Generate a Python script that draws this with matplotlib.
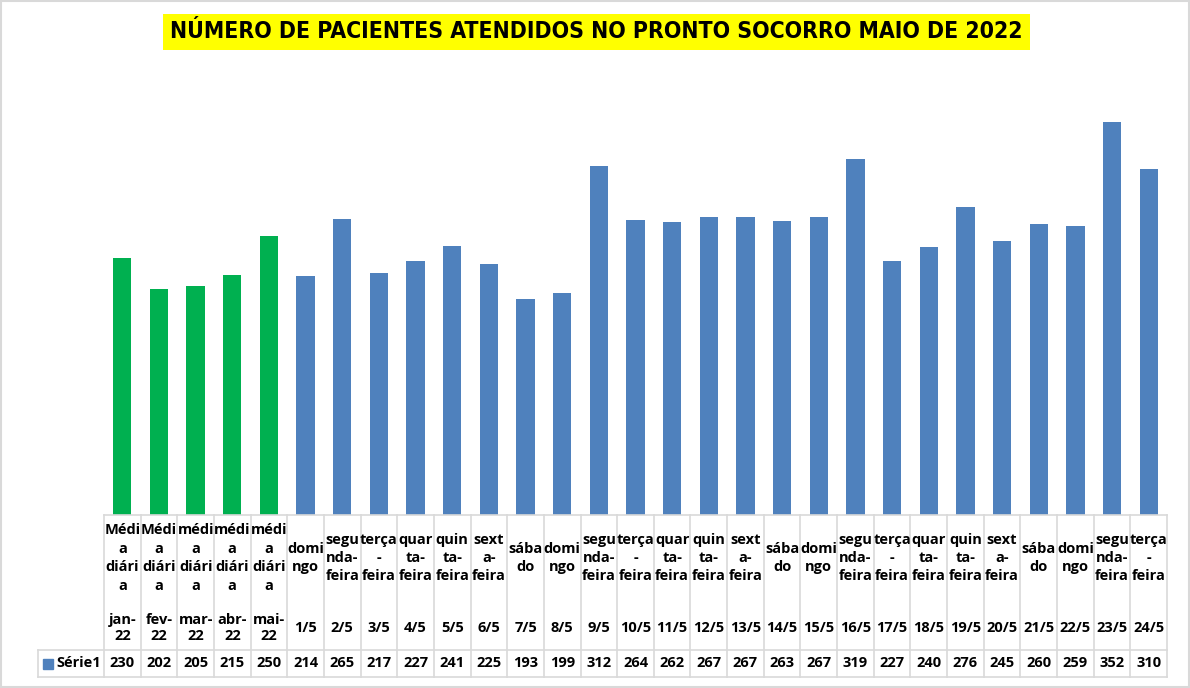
import matplotlib
matplotlib.use("Agg")
import matplotlib.pyplot as plt
from matplotlib import font_manager as fm
from matplotlib.transforms import blended_transform_factory
from matplotlib.patches import Rectangle

# ---------------- data ----------------
title = "NÚMERO DE PACIENTES ATENDIDOS NO PRONTO SOCORRO MAIO DE 2022"
series_name = "Série1"
day_labels = [
    "Médi\na\ndiári\na", "Médi\na\ndiári\na", "médi\na\ndiári\na", "médi\na\ndiári\na", "médi\na\ndiári\na",
    "domi\nngo", "segu\nnda-\nfeira", "terça\n-\nfeira", "quar\nta-\nfeira", "quin\nta-\nfeira",
    "sext\na-\nfeira", "sába\ndo", "domi\nngo", "segu\nnda-\nfeira", "terça\n-\nfeira",
    "quar\nta-\nfeira", "quin\nta-\nfeira", "sext\na-\nfeira", "sába\ndo", "domi\nngo",
    "segu\nnda-\nfeira", "terça\n-\nfeira", "quar\nta-\nfeira", "quin\nta-\nfeira", "sext\na-\nfeira",
    "sába\ndo", "domi\nngo", "segu\nnda-\nfeira", "terça\n-\nfeira",
]
date_labels = [
    "jan-\n22", "fev-\n22", "mar-\n22", "abr-\n22", "mai-\n22",
    "1/5", "2/5", "3/5", "4/5", "5/5", "6/5", "7/5", "8/5", "9/5", "10/5",
    "11/5", "12/5", "13/5", "14/5", "15/5", "16/5", "17/5", "18/5", "19/5",
    "20/5", "21/5", "22/5", "23/5", "24/5",
]
values = [230, 202, 205, 215, 250, 214, 265, 217, 227, 241, 225, 193, 199, 312,
          264, 262, 267, 267, 263, 267, 319, 227, 240, 276, 245, 260, 259, 352, 310]
n_monthly = 5  # first five columns are monthly averages

GREEN = "#00B050"
BLUE = "#4F81BD"
GRID = "#D9D9D9"

W, H = 1190, 688
fig = plt.figure(figsize=(W / 100, H / 100), dpi=100)
fig.patch.set_facecolor("white")

def fx(px):
    return px / W

def fy(py):
    return 1 - py / H

left_px, right_px = 104, 1167
top_px, base_px = 68, 515
ax = fig.add_axes([fx(left_px), fy(base_px), fx(right_px) - fx(left_px), fy(top_px) - fy(base_px)])
n = len(values)
x = list(range(n))
colors = [GREEN if i < n_monthly else BLUE for i in x]
ax.bar(x, values, width=0.5, color=colors, zorder=2)
ax.set_xlim(-0.5, n - 0.5)
ax.set_ylim(0, 400)
ax.set_axis_off()

# ---------------- data table ----------------
tr = blended_transform_factory(ax.transData, fig.transFigure)
tbl_font = dict(family=["Open Sans", "DejaVu Sans"], fontweight="bold", fontsize=10.5, color="black")

row1_top, row1_bot, row2_bot = 515, 650, 677
legend_left_px = 38
for b in [i - 0.5 for i in range(n + 1)]:
    ax.plot([b, b], [fy(row1_top), fy(row2_bot)], transform=tr, color=GRID, lw=1.2, clip_on=False, zorder=1)
ax.plot([-0.5, n - 0.5], [fy(row1_top)] * 2, transform=tr, color=GRID, lw=1.2, clip_on=False)
for yy in (row1_bot, row2_bot):
    fig.add_artist(plt.Line2D([fx(legend_left_px), fx(right_px)], [fy(yy), fy(yy)], color=GRID, lw=1.2))
fig.add_artist(plt.Line2D([fx(legend_left_px)] * 2, [fy(row1_bot), fy(row2_bot)], color=GRID, lw=1.2))

for i in x:
    ax.text(i, fy(558), day_labels[i], transform=tr, ha="center", va="center",
            linespacing=1.4, **tbl_font)
    ax.text(i, fy(628), date_labels[i], transform=tr, ha="center", va="center",
            linespacing=1.25, **tbl_font)
    ax.text(i, fy(663), str(values[i]), transform=tr, ha="center", va="center", **tbl_font)

fig.add_artist(Rectangle((fx(43), fy(669)), fx(10), fy(659) - fy(669), color=BLUE))
fig.text(fx(56), fy(663), series_name, ha="left", va="center", **tbl_font)

# ---------------- title ----------------
fig.add_artist(Rectangle((fx(163), fy(50)), fx(1030) - fx(163), fy(14) - fy(50),
                         facecolor="#FFFF00", edgecolor="none"))
cond = [f.name for f in fm.fontManager.ttflist
        if f.stretch in ("condensed", "semi-condensed", "extra-condensed") or "Narrow" in f.name
        or "Condensed" in f.name]
title_family = [cond[0]] if cond else ["Roboto"]
title_family += ["DejaVu Sans"]
t = fig.text(fx(596), fy(32), title, ha="center", va="center",
             family=title_family, fontweight="bold", fontsize=20,
             fontstretch="condensed" if cond else "normal")
# fit the title to the width of the yellow band
renderer = fig.canvas.get_renderer()
target = 850
for _ in range(4):
    wpx = t.get_window_extent(renderer).width
    t.set_fontsize(t.get_fontsize() * target / wpx)
if t.get_fontsize() > 20:
    t.set_fontsize(20)

fig.add_artist(Rectangle((0.001, 0.001), 0.998, 0.997, fill=False, edgecolor="#D9D9D9", lw=1.5))

fig.savefig("out.png", dpi=100)
